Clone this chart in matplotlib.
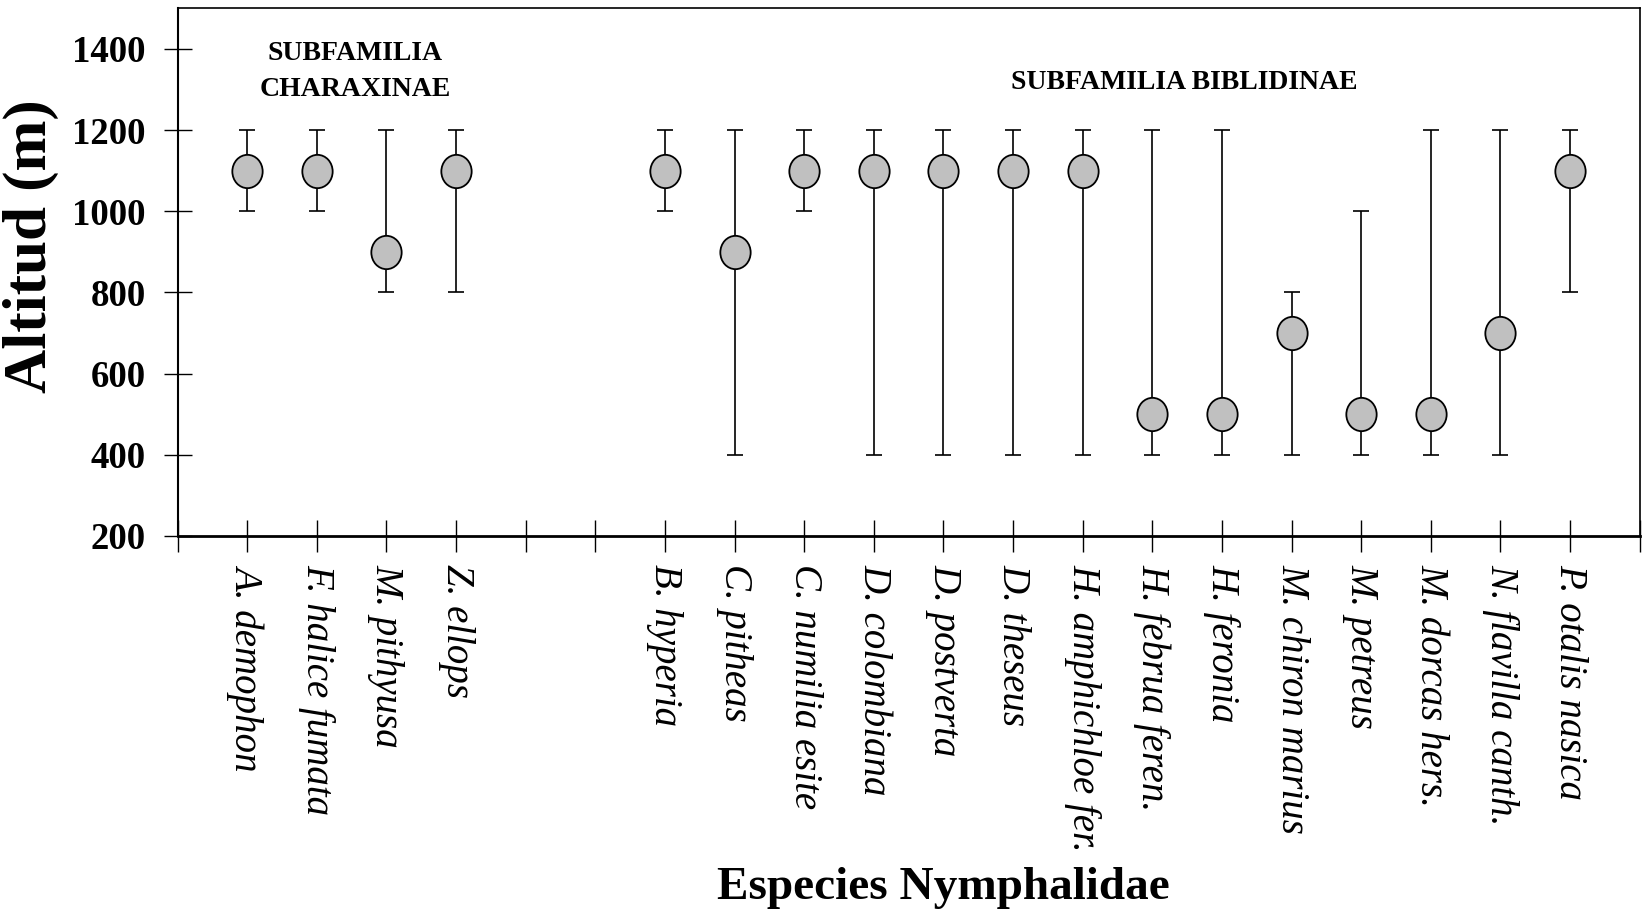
import matplotlib
matplotlib.use("Agg")
import matplotlib.pyplot as plt
from matplotlib.path import Path
from matplotlib.transforms import Affine2D

plt.rcParams['font.family'] = ['Liberation Serif', 'DejaVu Serif']

# species, x slot, mean altitude, min, max
species = ["A. demophon", "F. halice fumata", "M. pithyusa", "Z. ellops",
           "B. hyperia", "C. pitheas", "C. numilia esite", "D. colombiana",
           "D. postverta", "D. theseus", "H. amphichloe fer.", "H. februa feren.",
           "H. feronia", "M. chiron marius", "M. petreus", "M. dorcas hers.",
           "N. flavilla canth.", "P. otalis nasica"]
slots = [1, 2, 3, 4, 7, 8, 9, 10, 11, 12, 13, 14, 15, 16, 17, 18, 19, 20]
alt_mean = [1100, 1100, 900, 1100, 1100, 900, 1100, 1100, 1100, 1100, 1100,
            500, 500, 700, 500, 500, 700, 1100]
alt_min = [1000, 1000, 800, 800, 1000, 400, 1000, 400, 400, 400, 400,
           400, 400, 400, 400, 400, 400, 800]
alt_max = [1200, 1200, 1200, 1200, 1200, 1200, 1200, 1200, 1200, 1200, 1200,
           1200, 1200, 800, 1000, 1200, 1200, 1200]
y_ticks = [200, 400, 600, 800, 1000, 1200, 1400]

lower = [m - lo for m, lo in zip(alt_mean, alt_min)]
upper = [hi - m for m, hi in zip(alt_mean, alt_max)]

# slightly tall ellipse marker
ellipse = Path.unit_circle().transformed(Affine2D().scale(0.91, 1.0))

fig = plt.figure(figsize=(16.47, 9.24), dpi=100)
ax = fig.add_axes([0.1078, 0.42, 0.8878, 0.571])

ax.errorbar(slots, alt_mean, yerr=[lower, upper], fmt='none', ecolor='black',
            elinewidth=1.2, capsize=5.5, capthick=1.2, zorder=2)
ax.plot(slots, alt_mean, linestyle='none', marker=ellipse, markersize=24,
        markerfacecolor='#c0c0c0', markeredgecolor='black', markeredgewidth=1.3,
        zorder=3)

ax.set_xlim(0, 21)
ax.set_ylim(200, 1500)
ax.set_xticks(range(0, 22))
lbl = {s: n for s, n in zip(slots, species)}
ax.set_xticklabels([lbl.get(i, "") for i in range(0, 22)], rotation=270,
                   fontstyle='italic', fontsize=28, va='top', ha='center')
ax.set_yticks(y_ticks)
ax.set_yticklabels([str(v) for v in y_ticks], fontsize=26.5, fontweight='bold')

ax.tick_params(axis='x', direction='inout', length=23, width=1, pad=9)
ax.tick_params(axis='y', direction='inout', length=20, width=1, pad=13)

ax.spines['bottom'].set_linewidth(2)
ax.spines['left'].set_linewidth(1.5)
ax.spines['top'].set_linewidth(1.2)
ax.spines['right'].set_linewidth(1.2)

ax.set_ylabel("Altitud (m)", fontsize=44, fontweight='bold', va='center')
ax.yaxis.set_label_coords(-0.1, 0.549)
ax.set_xlabel("Especies Nymphalidae", fontsize=34, fontweight='bold', va='center')
ax.xaxis.set_label_coords(0.524, -0.668)

ax.text(2.55, 1345, "SUBFAMILIA\nCHARAXINAE", ha='center', va='center',
        fontsize=20, fontweight='bold', linespacing=1.6)
ax.text(14.46, 1317, "SUBFAMILIA BIBLIDINAE", ha='center', va='center',
        fontsize=20, fontweight='bold')

fig.savefig("out.png", dpi=100)
